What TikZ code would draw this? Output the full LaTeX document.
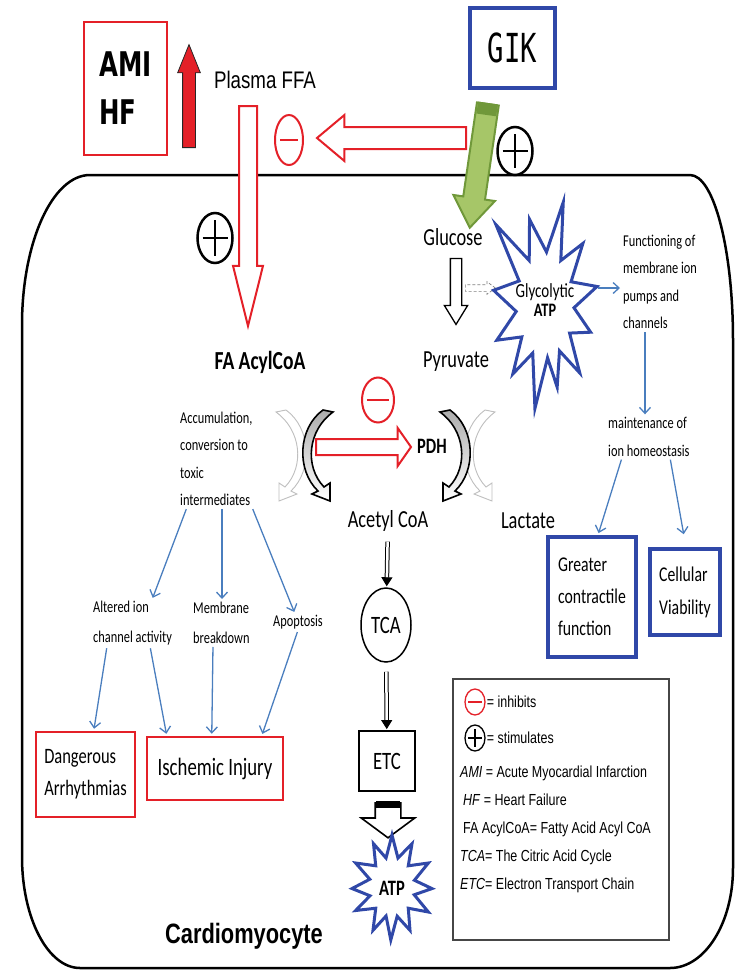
\documentclass[tikz,border=0pt]{standalone}
\usepackage{fontspec}
\setmainfont[FakeStretch=0.75]{Carlito}
\newfontfamily\arialn[FakeStretch=0.78]{Liberation Sans}
\newfontfamily\gikfont[FakeStretch=0.68]{DejaVu Sans Mono}
\newfontfamily\amifont[FakeStretch=0.72]{DejaVu Sans}
\usetikzlibrary{shapes.geometric, shapes.arrows, arrows.meta, positioning, calc}
\definecolor{ffared}{RGB}{228, 32, 40}
\definecolor{gikblue}{RGB}{48, 72, 168}
\definecolor{flowblue}{RGB}{74, 126, 190}
\definecolor{leafgreen}{RGB}{166, 198, 104}
\definecolor{darkleaf}{RGB}{112, 152, 58}
\definecolor{legframe}{RGB}{70, 70, 70}
\tikzset{
  cellwall/.style   = {line width=2.5pt, black},
  redbox/.style     = {rectangle, draw=ffared, line width=2.5pt, align=left, inner sep=0pt},
  bluebox/.style    = {rectangle, draw=gikblue, line width=3.5pt, align=left, inner sep=0pt},
  lbl/.style        = {font=\fontsize{24.5}{28}\selectfont, inner sep=1pt},
  note/.style       = {font=\fontsize{16.5}{27.5}\selectfont, align=left, inner sep=1pt},
  legtext/.style    = {font=\arialn\fontsize{16}{28}\selectfont, align=left, inner sep=0pt},
  bluearr/.style    = {-{Straight Barb[length=6pt, width=11pt]}, flowblue, line width=1.3pt, shorten <=2pt, shorten >=2pt},
  dblarr/.style     = {double, double distance=2.5pt, line width=1pt, -{Triangle[length=9pt, width=11pt]}, shorten <=9pt, shorten >=1pt},
  hollow/.style     = {single arrow, draw, fill=white, inner xsep=0pt, anchor=tail},
  inhib/.style      = {ellipse, draw=ffared, line width=2pt, fill=white, inner sep=0pt,
                       path picture={\draw[ffared] ([xshift=#1]path picture bounding box.west) -- ([xshift=-#1]path picture bounding box.east);}},
  inhib/.default    = 5pt,
  stim/.style       = {ellipse, draw, line width=2.5pt, fill=white, inner sep=0pt,
                       path picture={\draw ([xshift=#1]path picture bounding box.west) -- ([xshift=-#1]path picture bounding box.east)
                                     ([yshift=-1.4*#1]path picture bounding box.north) -- ([yshift=1.4*#1]path picture bounding box.south);}},
  stim/.default     = 5pt,
  starline/.style   = {draw=gikblue, line width=3pt, fill=white, line join=miter},
  bowdark/.style    = {draw=black, line width=1.6pt, top color=gray!65, bottom color=white},
  bowlight/.style   = {draw=gray!50, line width=0.9pt, fill=white},
  bow/.pic          = {\draw[#1] (-5,-2) -- (5,0) .. controls (-20,18) and (-24,54) .. (-4,75) -- (2,71) -- (2,89) -- (-16,82) -- (-10,79) .. controls (-32,58) and (-30,16) .. (-5,-2) -- cycle;},
}

\begin{document}
\begin{tikzpicture}[x=1pt, y=-1pt]
  \useasboundingbox (0,0) rectangle (736,970);
  \draw[cellwall] (22,325) arc[start angle=180, end angle=270, x radius=68, y radius=150] -- (690,175)
    arc[start angle=270, end angle=360, x radius=43, y radius=165] -- (733,868)
    arc[start angle=0, end angle=90, x radius=63, y radius=100] -- (80,968)
    arc[start angle=90, end angle=180, x radius=58, y radius=111] -- cycle;

  \node[redbox, minimum width=83pt, minimum height=133pt, font=\amifont\bfseries\fontsize{34}{48}\selectfont] (amihf) at (125.5,88.5) {AMI\\HF};
  \node[hollow, fill=ffared, draw=black!85, line width=0.8pt, inner ysep=6pt, single arrow head extend=5pt, single arrow tip angle=44, minimum height=103pt, rotate=90] (rise) at (189,148) {};
  \node[font=\arialn\fontsize{24}{26}\selectfont, inner sep=1pt] (ffa) at (265,80) {Plasma FFA};
  \node[hollow, draw=ffared, line width=2pt, inner ysep=8pt, single arrow head extend=6pt, single arrow tip angle=28, minimum height=220pt, rotate=-90] (ffadown) at (248,105) {};
  \node[hollow, draw=ffared, line width=2pt, inner ysep=10pt, single arrow head extend=12pt, single arrow tip angle=80, minimum height=149pt, rotate=180] (gikblock) at (467,138) {};
  \node[inhib, minimum width=28pt, minimum height=50pt] (inhffa) at (289,140) {};
  \node[bluebox, minimum width=85pt, minimum height=80pt, font=\gikfont\fontsize{40}{40}\selectfont] (gik) at (512.5,48) {GIK};
  \node[hollow, fill=leafgreen, draw=darkleaf, line width=2pt, inner ysep=10pt, single arrow head extend=10pt, single arrow tip angle=70, minimum height=125pt, rotate=-98.3] (gikgreen) at (488,103) {};
  \fill[darkleaf] (497.9,104.4) -- (478.1,101.6) -- (476.4,113.5) -- (496.2,116.3) -- cycle;
  \node[stim, minimum width=35pt, minimum height=48pt] (stimgik) at (515,151) {};
  \node[stim, minimum width=35pt, minimum height=50pt] (stimffa) at (215,238) {};

  \node[lbl] (glucose) at (453,237) {Glucose};
  \node[lbl] (pyruvate) at (456,362) {Pyruvate};
  \node[hollow, draw, line width=1.3pt, inner ysep=5pt, single arrow head extend=6pt, single arrow tip angle=63, minimum height=66pt, rotate=-90] (glycolysis) at ([xshift=3pt, yshift=-11pt]glucose.south) {};
  \node[hollow, draw=gray, densely dashed, line width=0.7pt, inner ysep=3pt, single arrow head extend=3pt, single arrow tip angle=74, minimum height=30pt] (tostar) at (465,288) {};
  \draw[starline, shift={(545,305)}] ({52*cos(-171)},{94*sin(-171)})
    \foreach \a/\rx/\ry in {-138/66/120, -108/50/90, -72/59/108, -42/51/92, -11/53/97, 18/48/88, 47/51/93, 75/47/85, 100/58/105, 130/50/90, 158/52/94}
      { -- ({29*cos(\a-15)},{53*sin(\a-15)}) -- ({\rx*cos(\a)},{\ry*sin(\a)}) }
    -- ({29*cos(173)},{53*sin(173)}) -- cycle;
  \node[font=\fontsize{20}{22}\selectfont, inner sep=0pt] (glyco) at (545,292) {Glycolytic};
  \node[below=3pt of glyco, font=\bfseries\fontsize{19}{20}\selectfont, inner sep=0pt] (glycoatp) {ATP};
  \coordinate (starE) at (596,288);
  \node[note, anchor=west] (funcs) at (622,282) {Functioning of\\membrane ion\\pumps and\\channels};
  \node[note, anchor=west] (maint) at (607,437) {maintenance of\\ion homeostasis};
  \node[bluebox, line width=4pt, minimum width=88pt, minimum height=120pt, font=\fontsize{21}{32}\selectfont] (contract) at (592,597) {Greater\\contractile\\function};
  \node[bluebox, line width=4pt, minimum width=70pt, minimum height=86pt, font=\fontsize{21}{33}\selectfont] (viab) at (685,592) {Cellular\\Viability};

  \node[font=\bfseries\fontsize{26}{28}\selectfont, inner sep=1pt] (acyl) at (260,362) {FA AcylCoA};
  \node[note, anchor=west] (accum) at (179,459) {Accumulation,\\conversion to\\toxic\\intermediates};
  \pic[xscale=-1] at (281,412) {bow=bowlight};
  \pic at (490,412) {bow=bowlight};
  \pic at (328,412) {bow=bowdark};
  \pic[xscale=-1] at (445,412) {bow=bowdark};
  \node[hollow, draw=ffared, line width=2pt, inner ysep=7pt, single arrow head extend=11pt, single arrow tip angle=110, minimum height=95pt] (pdhblock) at (315,447) {};
  \node[inhib, minimum width=32pt, minimum height=45pt] (inhpdh) at (378,400) {};
  \node[font=\bfseries\fontsize{22}{24}\selectfont, inner sep=1pt] (pdh) at (432,446) {PDH};
  \node[lbl] (acetyl) at (388,521) {Acetyl CoA};
  \node[lbl] (lactate) at (528,521) {Lactate};
  \node[draw, ellipse, line width=1.5pt, inner sep=0pt, minimum width=50pt, minimum height=74pt, font=\fontsize{25}{28}\selectfont] (tca) at (386,625) {TCA};
  \node[draw, line width=1.8pt, minimum width=56pt, minimum height=60pt, font=\fontsize{25}{28}\selectfont] (etc) at (387,761) {ETC};
  \draw[dblarr] (acetyl) -- (tca);
  \draw[dblarr] (tca) -- (etc);
  \node[hollow, draw, line width=1.6pt, inner ysep=12pt, single arrow head extend=14pt, single arrow tip angle=107, minimum height=35pt, rotate=-90] (atpblock) at (388,802) {};
  \fill (376,801) rectangle (400,808);
  \draw[starline, shift={(392,887)}] ({38*cos(-90)},{52*sin(-90)})
    \foreach \a/\rx/\ry in {-60/40/50, -30/42/48, 2/40/45, 30/42/50, 60/36/50, 92/34/53, 120/38/50, 150/42/47, 178/40/44, -150/42/48, -120/37/50}
      { -- ({23*cos(\a-15)},{30*sin(\a-15)}) -- ({\rx*cos(\a)},{\ry*sin(\a)}) }
    -- ({23*cos(-105)},{30*sin(-105)}) -- cycle;
  \node[font=\bfseries\fontsize{22}{24}\selectfont, inner sep=0pt] (atp) at (392,888) {ATP};

  \node[note, anchor=west, font=\fontsize{16.5}{30}\selectfont] (altered) at (92,623) {Altered ion\\channel activity};
  \node[note, anchor=west, font=\fontsize{16.5}{30}\selectfont] (membrane) at (192,623) {Membrane\\breakdown};
  \node[note] (apop) at (298,622) {Apoptosis};
  \node[redbox, minimum width=99pt, minimum height=85pt, font=\fontsize{22}{32}\selectfont] (danger) at (85.5,774.5) {Dangerous\\Arrhythmias};
  \node[redbox, minimum width=136pt, minimum height=63pt, font=\fontsize{25}{28}\selectfont] (isch) at (215,768.5) {Ischemic Injury};

  \draw[bluearr] ([xshift=8pt]accum.south west) -- ([xshift=60pt]altered.north west);
  \draw[bluearr] ([xshift=43pt]accum.south west) -- ([xshift=30pt]membrane.north west);
  \draw[bluearr] ([xshift=73pt]accum.south west) -- ([xshift=-3pt]apop.north);
  \draw[bluearr] ([xshift=15pt]altered.south west) -- ([xshift=59pt]danger.north west);
  \draw[bluearr] ([xshift=58pt]altered.south west) -- ([xshift=21pt]isch.north west);
  \draw[bluearr] ([xshift=21pt]membrane.south west) -- ([xshift=66pt]isch.north west);
  \draw[bluearr] (apop.south) -- ([xshift=116pt]isch.north west);
  \draw[bluearr] (starE) -- (funcs.west |- starE);
  \draw[bluearr] ([xshift=23pt]funcs.south west) -- ([xshift=38pt]maint.north west);
  \draw[bluearr] ([xshift=15pt]maint.south west) -- ([xshift=52pt]contract.north west);
  \draw[bluearr, shorten >=13pt] ([xshift=63pt]maint.south west) -- ([xshift=38pt]viab.north west);

  \node[font=\arialn\bfseries\fontsize{28}{30}\selectfont] (cardio) at (244,936) {Cardiomyocyte};

  \node[draw=legframe, line width=1.3pt, minimum width=216pt, minimum height=261pt] (legend) at (561,809.5) {};
  \node[inhib=3pt, line width=1.3pt, minimum width=20pt, minimum height=26pt] (leginh) at (475,702) {};
  \node[legtext, right=1pt of leginh] (leginhtxt) {= inhibits};
  \node[stim=3pt, line width=1.3pt, minimum width=20pt, minimum height=26pt] (legstim) at (475,738) {};
  \node[legtext, right=1pt of legstim] (legstimtxt) {= stimulates};
  \node[legtext, anchor=west] (legdefs) at (460,829) {\textit{AMI} = Acute Myocardial Infarction\\\hspace{3pt}\textit{HF} = Heart Failure\\\hspace{3pt}FA AcylCoA= Fatty Acid Acyl CoA\\\textit{TCA}= The Citric Acid Cycle\\\textit{ETC}= Electron Transport Chain};
\end{tikzpicture}
\end{document}
